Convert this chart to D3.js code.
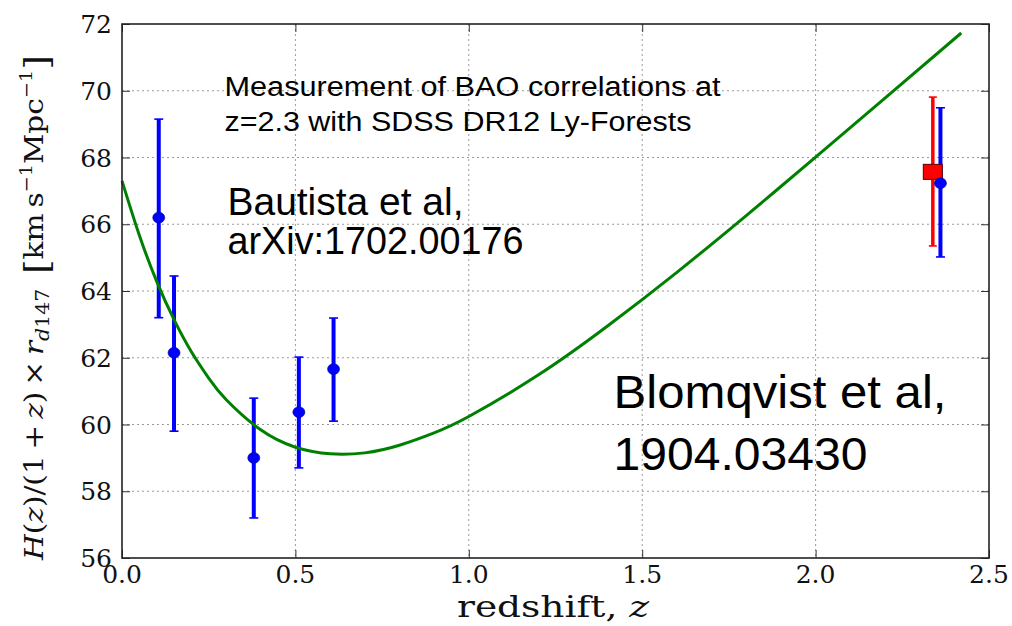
<!DOCTYPE html>
<html>
<head>
<meta charset="utf-8">
<script src="https://cdn.jsdelivr.net/npm/d3@7"></script>
<style>
  html, body { margin: 0; padding: 0; background: #fff; }
  svg { display: block; }
</style>
</head>
<body>
<svg id="chart" width="1012" height="626"></svg>
<script>
// ---------------- data ----------------
const xTickValues = [0.0, 0.5, 1.0, 1.5, 2.0, 2.5];
const xTickLabels = ["0.0", "0.5", "1.0", "1.5", "2.0", "2.5"];
const yTickValues = [56, 58, 60, 62, 64, 66, 68, 70, 72];
const yTickLabels = ["56", "58", "60", "62", "64", "66", "68", "70", "72"];

// blue measurements (galaxy BAO + Ly-alpha)
const blueZ  = [0.106, 0.15, 0.38, 0.51, 0.61, 2.36];
const blueH  = [66.20, 62.15, 59.00, 60.37, 61.66, 67.23];
const blueLo = [63.20, 59.80, 57.20, 58.70, 60.10, 65.02];
const blueHi = [69.15, 64.45, 60.79, 62.02, 63.19, 69.49];

// red measurement (square marker)
const redZ  = [2.338];
const redH  = [67.57];
const redLo = [65.35];
const redHi = [69.81];

// green model curve
const curveZ = [0, 0.05, 0.1, 0.15, 0.2, 0.25, 0.3, 0.4, 0.5, 0.6, 0.7, 0.8, 0.9, 1.0, 1.2, 1.4, 1.6, 1.8, 2.0, 2.2, 2.42];
const curveH = [67.30, 65.67, 64.29, 63.14, 62.18, 61.39, 60.75, 59.84, 59.32, 59.12, 59.15, 59.38, 59.75, 60.24, 61.48, 62.95, 64.56, 66.26, 68.01, 69.78, 71.73];

// ---------------- layout ----------------
const W = 1012, H = 626;
const margin = {left: 122, right: 23, top: 24, bottom: 68};
const iw = W - margin.left - margin.right;
const ih = H - margin.top - margin.bottom;

const svg = d3.select("#chart");
const g = svg.append("g").attr("transform", `translate(${margin.left},${margin.top})`);

const x = d3.scaleLinear().domain([0, 2.5]).range([0, iw]);
const y = d3.scaleLinear().domain([56, 72]).range([ih, 0]);

// grid (dotted)
const grid = g.append("g").attr("class", "grid");
grid.selectAll("line.gx").data(xTickValues.slice(1, -1)).join("line")
  .attr("x1", d => x(d)).attr("x2", d => x(d))
  .attr("y1", 0).attr("y2", ih)
  .attr("stroke", "#9a9a9a").attr("stroke-width", 1).attr("stroke-dasharray", "2,3");
grid.selectAll("line.gy").data(yTickValues.slice(1, -1)).join("line")
  .attr("y1", d => y(d)).attr("y2", d => y(d))
  .attr("x1", 0).attr("x2", iw)
  .attr("stroke", "#9a9a9a").attr("stroke-width", 1).attr("stroke-dasharray", "2,3");

// inward ticks on all four sides (via d3 axes)
const tickLen = 8;
const axB = d3.axisBottom(x).tickValues(xTickValues).tickSizeInner(-tickLen).tickSizeOuter(0).tickFormat("");
const axT = d3.axisTop(x).tickValues(xTickValues).tickSizeInner(-tickLen).tickSizeOuter(0).tickFormat("");
const axL = d3.axisLeft(y).tickValues(yTickValues).tickSizeInner(-tickLen).tickSizeOuter(0).tickFormat("");
const axR = d3.axisRight(y).tickValues(yTickValues).tickSizeInner(-tickLen).tickSizeOuter(0).tickFormat("");
[[axB, `translate(0,${ih})`], [axT, "translate(0,0)"], [axL, "translate(0,0)"], [axR, `translate(${iw},0)`]]
  .forEach(([ax, tr]) => {
    const a = g.append("g").attr("transform", tr).call(ax);
    a.select(".domain").remove();
    a.selectAll(".tick line").attr("stroke", "#333").attr("stroke-width", 1);
  });

// tick labels
const tickFont = "'DejaVu Serif', serif";
g.append("g").selectAll("text").data(xTickValues).join("text")
  .attr("x", d => x(d)).attr("y", ih + 25)
  .attr("text-anchor", "middle")
  .attr("font-family", tickFont).attr("font-size", 25).attr("fill", "#111")
  .text((d, i) => xTickLabels[i]);
g.append("g").selectAll("text").data(yTickValues).join("text")
  .attr("x", -10).attr("y", d => y(d) + 9)
  .attr("text-anchor", "end")
  .attr("font-family", tickFont).attr("font-size", 25).attr("fill", "#111")
  .text((d, i) => yTickLabels[i]);

// error bars
function errorBars(zs, lo, hi, color, width, capHalf) {
  const eg = g.append("g");
  zs.forEach((z, i) => {
    const cx = x(z);
    eg.append("line").attr("x1", cx).attr("x2", cx).attr("y1", y(lo[i])).attr("y2", y(hi[i]))
      .attr("stroke", color).attr("stroke-width", width);
    [lo[i], hi[i]].forEach(v => {
      eg.append("line").attr("x1", cx - capHalf).attr("x2", cx + capHalf)
        .attr("y1", y(v)).attr("y2", y(v))
        .attr("stroke", color).attr("stroke-width", 1.6);
    });
  });
}
errorBars(blueZ, blueLo, blueHi, "#0000ff", 4, 4.5);
errorBars(redZ, redLo, redHi, "#ff0000", 3.5, 4);

// model curve
const line = d3.line().x(d => x(d[0])).y(d => y(d[1])).curve(d3.curveNatural);
g.append("path").datum(curveZ.map((z, i) => [z, curveH[i]]))
  .attr("d", line).attr("fill", "none").attr("stroke", "#008000").attr("stroke-width", 3);

// red square marker
g.selectAll("rect.red").data(redZ).join("rect")
  .attr("x", (d) => x(d) - 9.5).attr("y", (d, i) => y(redH[i]) - 7.5)
  .attr("width", 19).attr("height", 15)
  .attr("fill", "#ff0000").attr("stroke", "#550000").attr("stroke-width", 1);

// blue circle markers
g.selectAll("ellipse.blue").data(blueZ).join("ellipse")
  .attr("cx", d => x(d)).attr("cy", (d, i) => y(blueH[i]))
  .attr("rx", 6).attr("ry", 5.4)
  .attr("fill", "#0000ff").attr("stroke", "#000088").attr("stroke-width", 0.6);

// frame
g.append("rect").attr("x", 0).attr("y", 0).attr("width", iw).attr("height", ih)
  .attr("fill", "none").attr("stroke", "#222").attr("stroke-width", 1.6);

// annotations
const sans = "'Liberation Sans', Arial, sans-serif";
const notes = [
  {t: "Measurement of BAO correlations at", x: 224.5, y: 96, fs: 27, len: 496},
  {t: "z=2.3 with SDSS DR12 Ly-Forests", x: 224.5, y: 131, fs: 27, len: 467},
  {t: "Bautista et al,", x: 227.5, y: 215, fs: 38, len: 236},
  {t: "arXiv:1702.00176", x: 227.5, y: 253.5, fs: 38, len: 296},
  {t: "Blomqvist et al,", x: 613.5, y: 408, fs: 46, len: 333},
  {t: "1904.03430", x: 613.5, y: 469.5, fs: 46, len: 254}
];
svg.append("g").selectAll("text").data(notes).join("text")
  .attr("x", d => d.x).attr("y", d => d.y)
  .attr("font-family", sans).attr("font-size", d => d.fs).attr("fill", "#000")
  .attr("textLength", d => d.len).attr("lengthAdjust", "spacingAndGlyphs")
  .text(d => d.t);

// x axis label
const xl = svg.append("text").attr("x", 457).attr("y", 617)
  .attr("font-family", tickFont).attr("font-size", 30).attr("fill", "#111")
  .attr("textLength", 192).attr("lengthAdjust", "spacingAndGlyphs");
xl.append("tspan").text("redshift, ");
xl.append("tspan").attr("font-style", "italic").text("z");

// y axis label (rotated)
const yl = svg.append("text")
  .attr("font-family", tickFont).attr("font-size", 26).attr("fill", "#111")
  .attr("text-anchor", "start");
const parts = [
  {t: "H", it: true}, {t: "("}, {t: "z", it: true}, {t: ")/(1\u2009+\u2009"}, {t: "z", it: true},
  {t: ")\u2009×\u2009"}, {t: "r", it: true},
  {t: "d", it: true, fs: 18, dy: 6}, {t: "147", fs: 18},
  {t: "\u2002", dy: -6},
  {t: "[", fs: 33, dy: 5}, {t: "km\u2009s", dy: -5}, {t: "\u22121", fs: 17, dy: -11},
  {t: "Mpc", dy: 11}, {t: "\u22121", fs: 17, dy: -11},
  {t: "]", fs: 33, dy: 16}
];
parts.forEach(p => {
  const ts = yl.append("tspan").text(p.t);
  if (p.it) ts.attr("font-style", "italic");
  if (p.fs) ts.attr("font-size", p.fs);
  if (p.dy) ts.attr("dy", p.dy);
});
const bw = yl.node().getComputedTextLength();
const targetLen = 505;
const sx = targetLen / bw;
yl.attr("transform", `translate(43,${560}) rotate(-90) scale(${sx},1)`);
</script>
</body>
</html>
